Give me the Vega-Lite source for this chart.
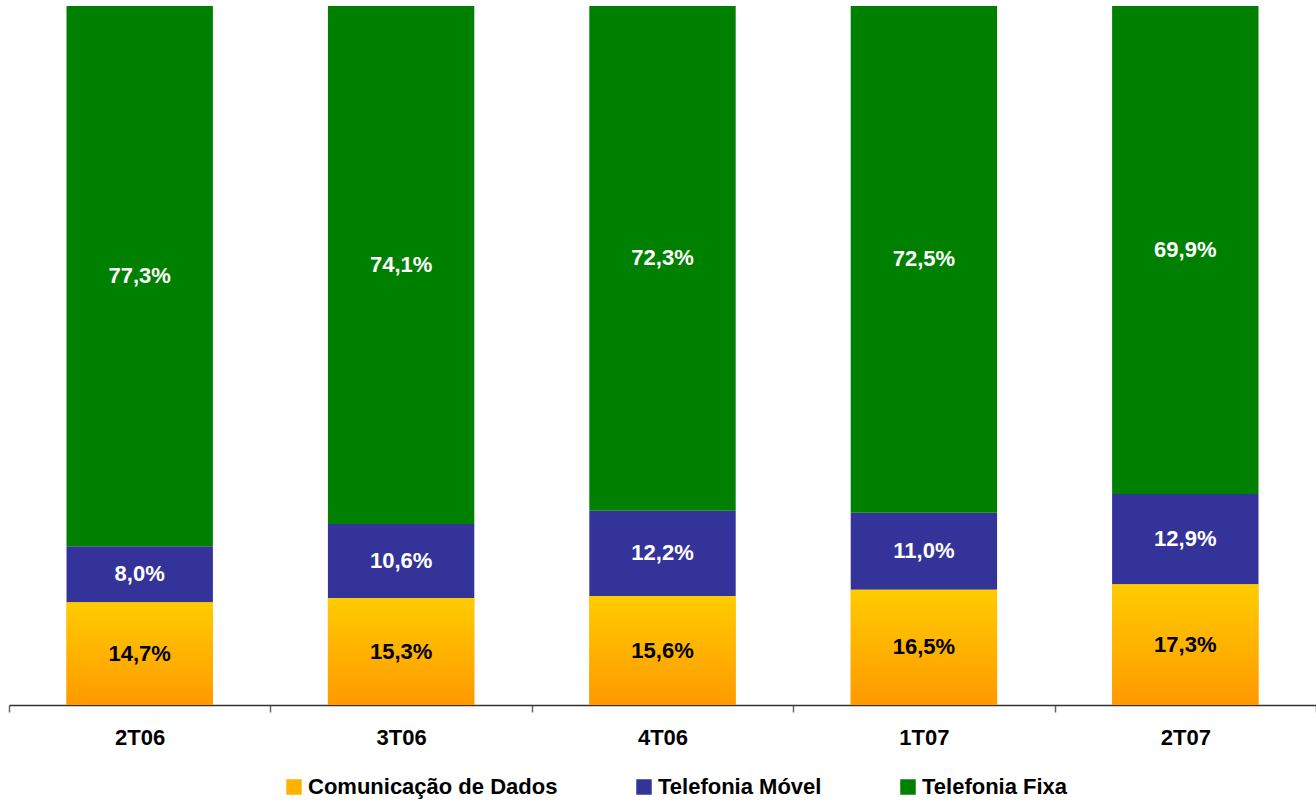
{
  "$schema": "https://vega.github.io/schema/vega-lite/v6.json",
  "width": 1307,
  "height": 699,
  "autosize": {"type": "none"},
  "padding": {"left": 9, "top": 6, "right": 0, "bottom": 95},
  "background": "white",
  "config": {"view": {"stroke": null}, "font": "Liberation Sans"},
  "data": {"values": [
    {"tri": "2T06", "serie": "Comunicação de Dados", "ordem": 1, "valor": 14.7, "rotulo": "14,7%"},
    {"tri": "2T06", "serie": "Telefonia Móvel", "ordem": 2, "valor": 8.0, "rotulo": "8,0%"},
    {"tri": "2T06", "serie": "Telefonia Fixa", "ordem": 3, "valor": 77.3, "rotulo": "77,3%"},
    {"tri": "3T06", "serie": "Comunicação de Dados", "ordem": 1, "valor": 15.3, "rotulo": "15,3%"},
    {"tri": "3T06", "serie": "Telefonia Móvel", "ordem": 2, "valor": 10.6, "rotulo": "10,6%"},
    {"tri": "3T06", "serie": "Telefonia Fixa", "ordem": 3, "valor": 74.1, "rotulo": "74,1%"},
    {"tri": "4T06", "serie": "Comunicação de Dados", "ordem": 1, "valor": 15.6, "rotulo": "15,6%"},
    {"tri": "4T06", "serie": "Telefonia Móvel", "ordem": 2, "valor": 12.2, "rotulo": "12,2%"},
    {"tri": "4T06", "serie": "Telefonia Fixa", "ordem": 3, "valor": 72.3, "rotulo": "72,3%"},
    {"tri": "1T07", "serie": "Comunicação de Dados", "ordem": 1, "valor": 16.5, "rotulo": "16,5%"},
    {"tri": "1T07", "serie": "Telefonia Móvel", "ordem": 2, "valor": 11.0, "rotulo": "11,0%"},
    {"tri": "1T07", "serie": "Telefonia Fixa", "ordem": 3, "valor": 72.5, "rotulo": "72,5%"},
    {"tri": "2T07", "serie": "Comunicação de Dados", "ordem": 1, "valor": 17.3, "rotulo": "17,3%"},
    {"tri": "2T07", "serie": "Telefonia Móvel", "ordem": 2, "valor": 12.9, "rotulo": "12,9%"},
    {"tri": "2T07", "serie": "Telefonia Fixa", "ordem": 3, "valor": 69.9, "rotulo": "69,9%"}
  ]},
  "transform": [
    {"stack": "valor", "groupby": ["tri"], "sort": [{"field": "ordem", "order": "ascending"}], "offset": "normalize", "as": ["y0", "y1"]},
    {"calculate": "(datum.y0 + datum.y1) / 2", "as": "ymid"}
  ],
  "encoding": {
    "x": {
      "field": "tri", "type": "nominal",
      "sort": ["2T06", "3T06", "4T06", "1T07", "2T07"],
      "scale": {"paddingInner": 0, "paddingOuter": 0},
      "axis": {
        "title": null, "labelAngle": 0, "labelFontSize": 22, "labelFontWeight": "bold", "labelColor": "black",
        "labelPadding": 15, "domainColor": "#333333", "domainWidth": 1.5, "tickColor": "#666666", "tickSize": 7,
        "tickBand": "extent", "tickWidth": 1.5
      }
    }
  },
  "layer": [
    {
      "mark": {"type": "bar", "width": {"band": 0.56}},
      "encoding": {
        "y": {"field": "y0", "type": "quantitative", "scale": {"domain": [0, 1], "nice": false, "zero": true}, "axis": null},
        "y2": {"field": "y1"},
        "color": {
          "field": "serie", "type": "nominal",
          "scale": {"domain": ["Comunicação de Dados", "Telefonia Móvel", "Telefonia Fixa"], "range": ["#FFB300", "#333399", "#008000"]},
          "legend": {
            "title": null, "orient": "none", "legendX": 274, "legendY": 770, "direction": "horizontal", "symbolType": "square", "symbolSize": 240,
            "symbolStrokeWidth": 0, "labelFontSize": 22, "labelFontWeight": "bold", "labelColor": "black", "labelLimit": 0,
            "columnPadding": 75, "labelOffset": 3, "symbolOpacity": 1,
            "encode": {
              "symbols": {
                "update": {
                  "fill": [
                    {"test": "datum.value === 'Comunicação de Dados'", "value": {"gradient": "linear", "x1": 0, "y1": 0, "x2": 0, "y2": 1, "stops": [{"offset": 0, "color": "#FFCC00"}, {"offset": 1, "color": "#FF9900"}]}},
                    {"test": "datum.value === 'Telefonia Móvel'", "value": "#333399"},
                    {"value": "#008000"}
                  ]
                }
              }
            }
          }
        }
      }
    },
    {
      "transform": [{"filter": "datum.serie === 'Comunicação de Dados'"}],
      "mark": {"type": "bar", "width": {"band": 0.56}, "fill": {"gradient": "linear", "x1": 0, "y1": 0, "x2": 0, "y2": 1, "stops": [{"offset": 0, "color": "#FFCC00"}, {"offset": 1, "color": "#FF9900"}]}},
      "encoding": {
        "y": {"field": "y0", "type": "quantitative"},
        "y2": {"field": "y1"}
      }
    },
    {
      "mark": {"type": "text", "fontSize": 22, "fontWeight": "bold", "baseline": "middle"},
      "encoding": {
        "y": {"field": "ymid", "type": "quantitative"},
        "text": {"field": "rotulo"},
        "color": {"condition": {"test": "datum.serie === 'Comunicação de Dados'", "value": "black"}, "value": "white"}
      }
    }
  ]
}
